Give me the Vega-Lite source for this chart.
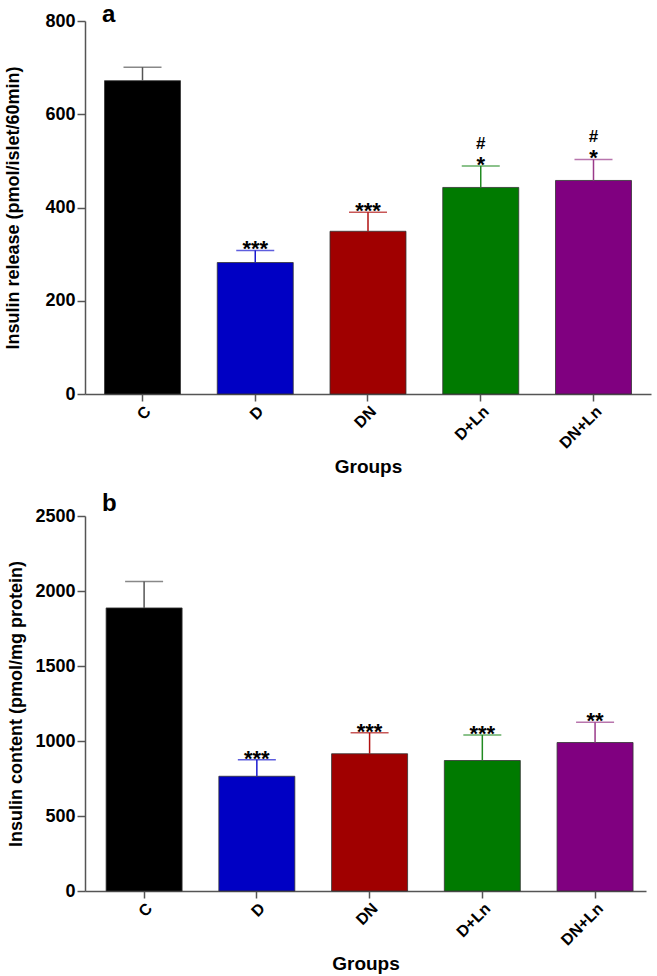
{
  "$schema": "https://vega.github.io/schema/vega-lite/v6.json",
  "background": "white",
  "padding": {"left": 4, "top": 3, "right": 5, "bottom": 0},
  "datasets": {
    "a": [
      {"g": "C", "v": 672, "hi": 701, "star": "", "hash": ""},
      {"g": "D", "v": 282, "hi": 308, "star": "***", "hash": ""},
      {"g": "DN", "v": 349, "hi": 390, "star": "***", "hash": ""},
      {"g": "D+Ln", "v": 443, "hi": 489, "star": "*", "hash": "#"},
      {"g": "DN+Ln", "v": 458, "hi": 503, "star": "*", "hash": "#"}
    ],
    "b": [
      {"g": "C", "v": 1887, "hi": 2063, "star": "", "hash": ""},
      {"g": "D", "v": 765, "hi": 875, "star": "***", "hash": ""},
      {"g": "DN", "v": 915, "hi": 1055, "star": "***", "hash": ""},
      {"g": "D+Ln", "v": 870, "hi": 1040, "star": "***", "hash": ""},
      {"g": "DN+Ln", "v": 990, "hi": 1125, "star": "**", "hash": ""}
    ]
  },
  "config": {
    "view": {"stroke": null},
    "font": "Liberation Sans",
    "axis": {
      "grid": false,
      "domainColor": "#555555",
      "domainWidth": 1.5,
      "tickColor": "#555555",
      "tickWidth": 1.5,
      "tickSize": 8,
      "labelFont": "Liberation Sans",
      "labelFontWeight": "bold",
      "labelColor": "#000000",
      "titleFont": "Liberation Sans",
      "titleFontWeight": "bold",
      "titleColor": "#000000"
    },
    "title": {"font": "Liberation Sans", "fontWeight": "bold", "fontSize": 24, "anchor": "start", "frame": "group", "baseline": "alphabetic", "color": "#000000"}
  },
  "spacing": 15,
  "vconcat": [
    {
      "title": {"text": "a", "dx": 17, "offset": -15},
      "width": 566,
      "height": 373,
      "data": {"name": "a"},
      "encoding": {
        "x": {
          "field": "g", "type": "nominal", "sort": null,
          "scale": {"paddingInner": 0.326, "paddingOuter": 0.173},
          "axis": {"labelAngle": -45, "labelFontSize": 16, "title": "Groups", "titleFontSize": 19, "titlePadding": 6, "tickSize": 7}
        }
      },
      "layer": [
        {
          "mark": {"type": "bar", "stroke": "#333333", "strokeWidth": 1, "strokeOpacity": 0.8},
          "encoding": {
            "y": {"field": "v", "type": "quantitative", "scale": {"domain": [0, 800], "nice": false},
              "axis": {"values": [0, 200, 400, 600, 800], "format": "d", "title": "Insulin release (pmol/islet/60min)", "titleFontSize": 18, "labelFontSize": 18, "titlePadding": 22}},
            "color": {"field": "g", "type": "nominal", "sort": null,
              "scale": {"domain": ["C", "D", "DN", "D+Ln", "DN+Ln"], "range": ["#000000", "#0000c4", "#a00000", "#007a00", "#800080"]}, "legend": null}
          }
        },
        {
          "layer": [
            {
              "mark": {"type": "rule", "strokeWidth": 1.5},
              "encoding": {"y": {"field": "v", "type": "quantitative"}, "y2": {"field": "hi"}}
            },
            {
              "mark": {"type": "tick", "thickness": 1.5, "size": 38},
              "encoding": {"y": {"field": "hi", "type": "quantitative"}}
            }
          ],
          "encoding": {
            "color": {"field": "g", "type": "nominal", "sort": null,
              "scale": {"domain": ["C", "D", "DN", "D+Ln", "DN+Ln"], "range": ["#555555", "#1a1ad0", "#b01010", "#228b22", "#9a3a8a"]}, "legend": null}
          }
        },
        {
          "mark": {"type": "text", "fontSize": 22, "fontWeight": "bold", "baseline": "alphabetic", "dy": 6, "color": "#000000"},
          "encoding": {"y": {"field": "hi", "type": "quantitative"}, "text": {"field": "star"}}
        },
        {
          "mark": {"type": "text", "fontSize": 17, "fontWeight": "bold", "baseline": "alphabetic", "dy": -17, "color": "#000000"},
          "encoding": {"y": {"field": "hi", "type": "quantitative"}, "text": {"field": "hash"}}
        }
      ],
      "resolve": {"scale": {"color": "independent"}}
    },
    {
      "title": {"text": "b", "dx": 17, "offset": -9},
      "width": 561,
      "height": 375,
      "data": {"name": "b"},
      "encoding": {
        "x": {
          "field": "g", "type": "nominal", "sort": null,
          "scale": {"paddingInner": 0.326, "paddingOuter": 0.151, "align": 0.62},
          "axis": {"labelAngle": -45, "labelFontSize": 16, "title": "Groups", "titleFontSize": 19, "titlePadding": 6, "tickSize": 7}
        }
      },
      "layer": [
        {
          "mark": {"type": "bar", "stroke": "#333333", "strokeWidth": 1, "strokeOpacity": 0.8},
          "encoding": {
            "y": {"field": "v", "type": "quantitative", "scale": {"domain": [0, 2500], "nice": false},
              "axis": {"values": [0, 500, 1000, 1500, 2000, 2500], "format": "d", "title": "Insulin content (pmol/mg protein)", "titleFontSize": 18, "labelFontSize": 18, "titlePadding": 9}},
            "color": {"field": "g", "type": "nominal", "sort": null,
              "scale": {"domain": ["C", "D", "DN", "D+Ln", "DN+Ln"], "range": ["#000000", "#0000c4", "#a00000", "#007a00", "#800080"]}, "legend": null}
          }
        },
        {
          "layer": [
            {
              "mark": {"type": "rule", "strokeWidth": 1.5},
              "encoding": {"y": {"field": "v", "type": "quantitative"}, "y2": {"field": "hi"}}
            },
            {
              "mark": {"type": "tick", "thickness": 1.5, "size": 38},
              "encoding": {"y": {"field": "hi", "type": "quantitative"}}
            }
          ],
          "encoding": {
            "color": {"field": "g", "type": "nominal", "sort": null,
              "scale": {"domain": ["C", "D", "DN", "D+Ln", "DN+Ln"], "range": ["#555555", "#1a1ad0", "#b01010", "#228b22", "#9a3a8a"]}, "legend": null}
          }
        },
        {
          "mark": {"type": "text", "fontSize": 22, "fontWeight": "bold", "baseline": "alphabetic", "dy": 6, "color": "#000000"},
          "encoding": {"y": {"field": "hi", "type": "quantitative"}, "text": {"field": "star"}}
        }
      ],
      "resolve": {"scale": {"color": "independent"}}
    }
  ]
}
